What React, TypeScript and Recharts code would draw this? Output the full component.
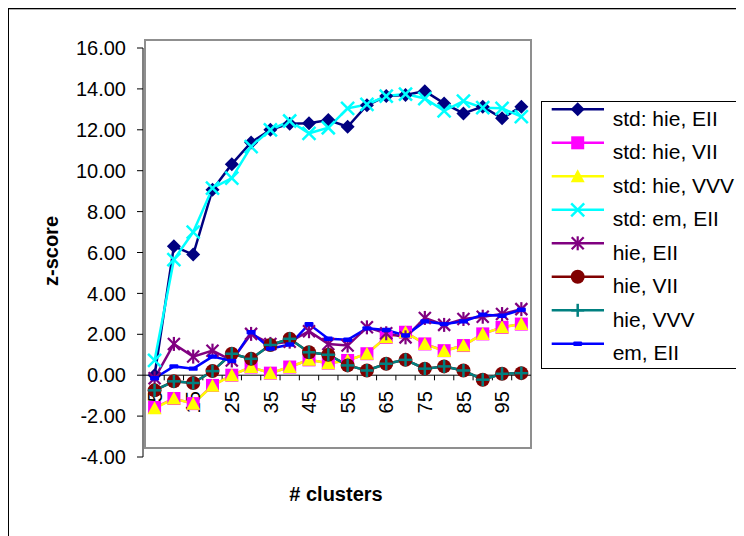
import React from 'react';
import { ComposedChart, Line, XAxis, YAxis, ReferenceLine, Scatter, Legend } from 'recharts';

const categories = [5, 10, 15, 20, 25, 30, 35, 40, 45, 50, 55, 60, 65, 70, 75, 80, 85, 90, 95, 100];

const stdHieEII = [0.0, 6.3, 5.9, 9.07, 10.32, 11.38, 12.0, 12.3, 12.32, 12.48, 12.15, 13.2, 13.65, 13.7, 13.89, 13.29, 12.8, 13.13, 12.56, 13.13];
const stdHieVII = [-1.58, -1.14, -1.39, -0.5, 0.0, 0.4, 0.1, 0.4, 0.75, 0.59, 0.72, 1.05, 1.85, 2.1, 1.53, 1.2, 1.45, 2.02, 2.34, 2.5];
const stdHieVVV = [-1.62, -1.14, -1.39, -0.52, 0.0, 0.4, 0.1, 0.4, 0.75, 0.59, 0.72, 1.05, 1.85, 2.1, 1.53, 1.18, 1.45, 2.02, 2.34, 2.5];
const stdEmEII = [0.72, 5.65, 7.0, 9.15, 9.64, 11.18, 12.0, 12.43, 11.83, 12.1, 13.05, 13.24, 13.65, 13.75, 13.53, 12.93, 13.4, 13.08, 13.05, 12.64];
const hieEII = [-0.15, 1.53, 0.91, 1.2, 0.72, 2.02, 1.53, 1.64, 2.15, 1.53, 1.45, 2.34, 2.05, 1.85, 2.8, 2.46, 2.75, 2.86, 2.99, 3.23];
const hieVII = [-0.74, -0.3, -0.38, 0.2, 1.05, 0.8, 1.48, 1.78, 1.12, 1.0, 0.48, 0.23, 0.56, 0.75, 0.32, 0.43, 0.23, -0.22, 0.07, 0.1];
const hieVVV = [-0.74, -0.3, -0.38, 0.2, 1.05, 0.8, 1.48, 1.78, 1.12, 1.0, 0.48, 0.23, 0.56, 0.75, 0.32, 0.43, 0.23, -0.22, 0.07, 0.1];
const emEII = [-0.15, 0.43, 0.32, 0.91, 0.7, 2.1, 1.3, 1.5, 2.5, 1.78, 1.73, 2.29, 2.21, 1.94, 2.63, 2.5, 2.63, 2.96, 2.91, 3.2];

const xTickLabels = ['5', '15', '25', '35', '45', '55', '65', '75', '85', '95'];
const yTicks = [-4, -2, 0, 2, 4, 6, 8, 10, 12, 14, 16];

const FONT = "'Liberation Sans', Arial, Helvetica, sans-serif";

type MarkerKind = 'diamond' | 'square' | 'triangle' | 'x' | 'star' | 'circle' | 'plus' | 'dash';

const SERIES: { key: string; name: string; color: string; marker: MarkerKind; values: number[] }[] = [
  { key: 'stdHieEII', name: 'std: hie, EII', color: '#000080', marker: 'diamond', values: stdHieEII },
  { key: 'stdHieVII', name: 'std: hie, VII', color: '#FF00FF', marker: 'square', values: stdHieVII },
  { key: 'stdHieVVV', name: 'std: hie, VVV', color: '#FFFF00', marker: 'triangle', values: stdHieVVV },
  { key: 'stdEmEII', name: 'std: em, EII', color: '#00FFFF', marker: 'x', values: stdEmEII },
  { key: 'hieEII', name: 'hie, EII', color: '#800080', marker: 'star', values: hieEII },
  { key: 'hieVII', name: 'hie, VII', color: '#800000', marker: 'circle', values: hieVII },
  { key: 'hieVVV', name: 'hie, VVV', color: '#008080', marker: 'plus', values: hieVVV },
  { key: 'emEII', name: 'em, EII', color: '#0000FF', marker: 'dash', values: emEII },
];

const data = categories.map((c, i) => {
  const row: Record<string, number> = { x: c };
  SERIES.forEach((s) => {
    row[s.key] = s.values[i];
  });
  return row;
});

const boundaries = categories.slice(0, -1).map((c, i) => (c + categories[i + 1]) / 2);
const labelData = xTickLabels.map((l) => ({ x: Number(l), y: 0, label: l }));

function Marker({ kind, cx, cy, color }: { kind: MarkerKind; cx: number; cy: number; color: string }) {
  if (cx == null || cy == null || isNaN(cx) || isNaN(cy)) return null;
  switch (kind) {
    case 'diamond':
      return <polygon points={`${cx},${cy - 7} ${cx + 7},${cy} ${cx},${cy + 7} ${cx - 7},${cy}`} fill={color} />;
    case 'square':
      return <rect x={cx - 6.5} y={cy - 6.5} width={13} height={13} fill={color} />;
    case 'triangle':
      return <polygon points={`${cx},${cy - 7} ${cx + 7},${cy + 6} ${cx - 7},${cy + 6}`} fill={color} />;
    case 'x':
      return (
        <g stroke={color} strokeWidth={2.5}>
          <line x1={cx - 6.5} y1={cy - 6.5} x2={cx + 6.5} y2={cy + 6.5} />
          <line x1={cx - 6.5} y1={cy + 6.5} x2={cx + 6.5} y2={cy - 6.5} />
        </g>
      );
    case 'star':
      return (
        <g stroke={color} strokeWidth={2.2}>
          <line x1={cx - 6} y1={cy - 6} x2={cx + 6} y2={cy + 6} />
          <line x1={cx - 6} y1={cy + 6} x2={cx + 6} y2={cy - 6} />
          <line x1={cx} y1={cy - 7} x2={cx} y2={cy + 7} />
        </g>
      );
    case 'circle':
      return <circle cx={cx} cy={cy} r={7} fill={color} />;
    case 'plus':
      return (
        <g stroke={color} strokeWidth={2.5}>
          <line x1={cx - 6.5} y1={cy} x2={cx + 6.5} y2={cy} />
          <line x1={cx} y1={cy - 6.5} x2={cx} y2={cy + 6.5} />
        </g>
      );
    case 'dash':
      return <rect x={cx - 4.5} y={cy - 2.2} width={9} height={4.4} rx={1.2} fill={color} />;
    default:
      return null;
  }
}

function LegendBox() {
  return (
    <div style={{ width: 201, height: 268, border: '1px solid #000', boxSizing: 'border-box', background: '#fff' }}>
      <svg width={199} height={266} style={{ display: 'block' }}>
        {SERIES.map((s, i) => {
          const ly = 7.3 + 33.5 * i;
          return (
            <g key={s.key}>
              <line x1={9.7} y1={ly} x2={62} y2={ly} stroke={s.color} strokeWidth={2.5} />
              <Marker kind={s.marker} cx={35.7} cy={ly} color={s.color} />
              <text x={70.7} y={23.7 + 33.5 * i} fontSize={21} fontFamily={FONT} fill="#000">
                {s.name}
              </text>
            </g>
          );
        })}
      </svg>
    </div>
  );
}

function AxisTitles() {
  return (
    <g>
      <text
        x={43}
        y={243}
        transform="rotate(-90 43 243)"
        textAnchor="middle"
        dy="0.36em"
        fontSize={20}
        fontWeight="bold"
        fontFamily={FONT}
        fill="#000"
      >
        z-score
      </text>
      <text x={328} y={492.7} textAnchor="middle" fontSize={20} fontWeight="bold" fontFamily={FONT} fill="#000">
        # clusters
      </text>
    </g>
  );
}

function XTickLabel(props: any) {
  const { cx, cy, payload } = props;
  if (cx == null || cy == null) return null;
  const x = cx;
  const y = cy + 16;
  return (
    <text
      x={x}
      y={y}
      transform={`rotate(-90 ${x} ${y})`}
      textAnchor="end"
      dy="0.36em"
      fontSize={20}
      fontFamily={FONT}
      fill="#000"
    >
      {payload.label}
    </text>
  );
}

export default function App() {
  return (
    <div style={{ position: 'relative', width: 736, height: 528, overflow: 'hidden', background: '#fff' }}>
      <div
        style={{
          position: 'absolute',
          left: 0,
          top: 0,
          width: 800,
          height: 600,
          border: '1px solid #000',
          boxSizing: 'border-box',
        }}
      />
      <div style={{ position: 'absolute', left: 1, top: 1, width: 800, height: 1, background: '#b0b0b0' }} />
      <div
        style={{
          position: 'absolute',
          left: 136,
          top: 31,
          width: 388,
          height: 410,
          border: '2px solid #8f8f8f',
          boxSizing: 'border-box',
        }}
      />
      <ComposedChart width={736} height={528} data={data} margin={{ top: 40, right: 213, bottom: 79, left: 0 }}>
        <XAxis dataKey="x" type="number" domain={[2, 102.5]} hide />
        <YAxis
          width={135}
          domain={[-4, 16]}
          ticks={yTicks}
          interval={0}
          tickFormatter={(v: number) => v.toFixed(2)}
          tick={{ fontSize: 20, fill: '#000', fontFamily: FONT }}
          tickSize={6}
          tickMargin={11}
          axisLine={{ stroke: '#000', strokeWidth: 1 }}
          tickLine={{ stroke: '#000', strokeWidth: 1 }}
          label={<AxisTitles />}
        />
        <ReferenceLine y={0} stroke="#000" strokeWidth={1} />
        {boundaries.map((b) => (
          <ReferenceLine
            key={`t${b}`}
            segment={[
              { x: b, y: 0 },
              { x: b, y: -0.25 },
            ]}
            stroke="#000"
            strokeWidth={1}
          />
        ))}
        <Scatter
          data={labelData}
          dataKey="y"
          legendType="none"
          isAnimationActive={false}
          shape={(p: any) => <XTickLabel {...p} />}
        />
        {SERIES.map((s) => (
          <Line
            key={s.key}
            type="linear"
            dataKey={s.key}
            name={s.name}
            stroke={s.color}
            strokeWidth={2.5}
            isAnimationActive={false}
            dot={(p: any) => <Marker key={`${s.key}-${p.index}`} kind={s.marker} cx={p.cx} cy={p.cy} color={s.color} />}
            activeDot={false}
          />
        ))}
        <Legend
          layout="vertical"
          align="center"
          verticalAlign="middle"
          wrapperStyle={{ position: 'absolute', left: 533, top: 93, width: 201, height: 268 }}
          content={() => <LegendBox />}
        />
      </ComposedChart>
    </div>
  );
}
